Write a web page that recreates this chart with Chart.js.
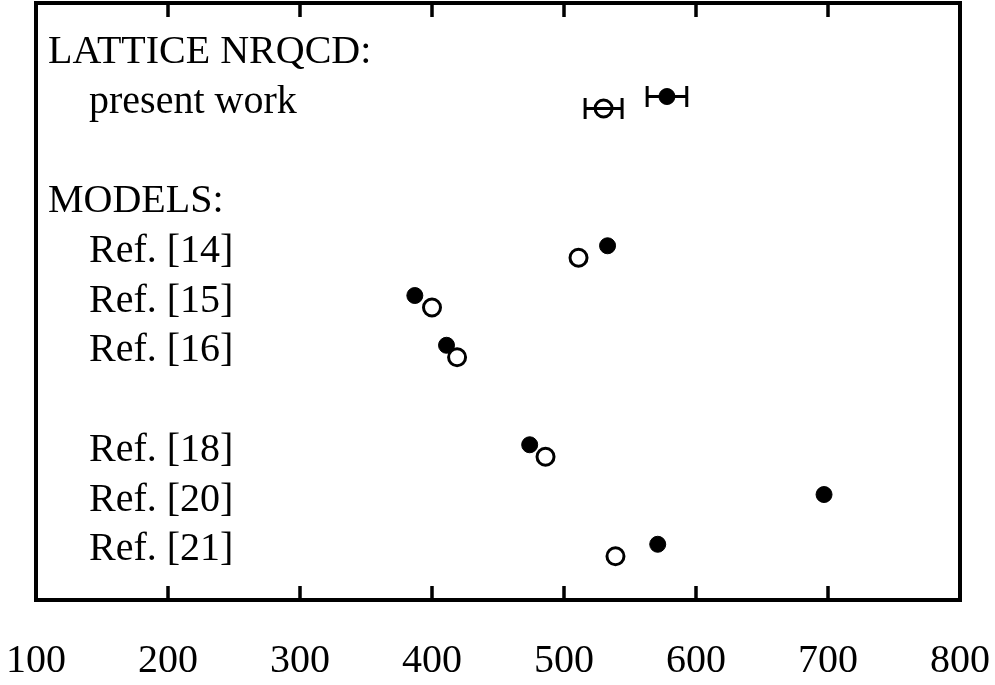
<!DOCTYPE html>
<html>
<head>
<meta charset="utf-8">
<title>NRQCD vs models</title>
<script src="https://cdn.jsdelivr.net/npm/chart.js@4.4.1/dist/chart.umd.min.js"></script>
<style>
  html, body { margin: 0; padding: 0; background: #fff; }
  #wrap { width: 995px; height: 685px; position: relative; }
</style>
</head>
<body>
<div id="wrap"><canvas id="chart"></canvas></div>
<script>
// Row labels (row index counts from the top, empty rows are gaps)
const rowLabels = ['LATTICE NRQCD:', 'present work', 'MODELS:', 'Ref. [14]', 'Ref. [15]', 'Ref. [16]', 'Ref. [18]', 'Ref. [20]', 'Ref. [21]'];
const labelRows = [0, 1, 3, 4, 5, 6, 8, 9, 10];
const labelIndent = [0, 1, 0, 1, 1, 1, 1, 1, 1];

// Results for each row that has points
const pointRows = [1, 4, 5, 6, 8, 9, 10];
const filledValues = [578, 533, 387, 411, 474, 697, 571];
const filledErrors = [15, null, null, null, null, null, null];
const openValues = [530, 511, 400, 419, 486, null, 539];
const openErrors = [14, null, null, null, null, null, null];

const xTicks = [100, 200, 300, 400, 500, 600, 700, 800];

const FONT = "'Liberation Serif', 'Times New Roman', serif";
const ROW_SHIFT = 0.12; // filled sits a little above the row, open a little below

function toPoints(values, errors, shift) {
    const pts = [];
    values.forEach((v, i) => {
        if (v === null) return;
        pts.push({ x: v, y: pointRows[i] + shift, err: errors[i] });
    });
    return pts;
}

// Frame with inward ticks on top and bottom
const framePlugin = {
    id: 'frame',
    afterDatasetsDraw(chart) {
        const { ctx, chartArea: a, scales: { x } } = chart;
        ctx.save();
        ctx.strokeStyle = '#000';
        ctx.lineWidth = 4;
        ctx.strokeRect(a.left, a.top, a.right - a.left, a.bottom - a.top);
        ctx.lineWidth = 3.5;
        x.ticks.forEach(t => {
            if (t.value === x.min || t.value === x.max) return;
            const px = Math.round(x.getPixelForValue(t.value));
            ctx.beginPath();
            ctx.moveTo(px, a.bottom);
            ctx.lineTo(px, a.bottom - 14);
            ctx.moveTo(px, a.top);
            ctx.lineTo(px, a.top + 14);
            ctx.stroke();
        });
        ctx.restore();
    }
};

// Horizontal error bars with end caps
const errorBarPlugin = {
    id: 'errorBars',
    afterDatasetsDraw(chart) {
        const { ctx, scales: { x, y } } = chart;
        ctx.save();
        ctx.strokeStyle = '#000';
        ctx.lineWidth = 3;
        chart.data.datasets.forEach(ds => {
            ds.data.forEach(p => {
                if (!p.err) return;
                const x0 = x.getPixelForValue(p.x - p.err);
                const x1 = x.getPixelForValue(p.x + p.err);
                const py = y.getPixelForValue(p.y);
                ctx.beginPath();
                ctx.moveTo(x0, py);
                ctx.lineTo(x1, py);
                ctx.moveTo(x0, py - 10.5);
                ctx.lineTo(x0, py + 10.5);
                ctx.moveTo(x1, py - 10.5);
                ctx.lineTo(x1, py + 10.5);
                ctx.stroke();
            });
        });
        ctx.restore();
    }
};

// Row names inside the frame
const rowLabelPlugin = {
    id: 'rowLabels',
    afterDraw(chart) {
        const { ctx, chartArea: a, scales: { y } } = chart;
        ctx.save();
        ctx.fillStyle = '#000';
        ctx.font = '40px ' + FONT;
        ctx.textAlign = 'left';
        ctx.textBaseline = 'alphabetic';
        rowLabels.forEach((txt, i) => {
            const px = a.left + (labelIndent[i] ? 53 : 12);
            const py = y.getPixelForValue(labelRows[i]) + 10;
            ctx.fillText(txt, px, py);
        });
        ctx.restore();
    }
};

new Chart(document.getElementById('chart'), {
    type: 'scatter',
    data: {
        datasets: [{
            label: 'open',
            data: toPoints(openValues, openErrors, ROW_SHIFT),
            pointStyle: 'circle',
            pointRadius: 8.5,
            pointHoverRadius: 8.5,
            borderWidth: 3,
            borderColor: '#000',
            backgroundColor: '#fff',
            order: 0
        }, {
            label: 'filled',
            data: toPoints(filledValues, filledErrors, -ROW_SHIFT),
            pointStyle: 'circle',
            pointRadius: 8,
            pointHoverRadius: 8,
            borderWidth: 1,
            borderColor: '#000',
            backgroundColor: '#000',
            order: 1
        }]
    },
    options: {
        responsive: true,
        maintainAspectRatio: false,
        animation: false,
        layout: { autoPadding: false, padding: { left: 36, right: 35, top: 3, bottom: 2 } },
        plugins: {
            legend: { display: false },
            tooltip: { enabled: false }
        },
        scales: {
            x: {
                type: 'linear',
                min: 100,
                max: 800,
                afterBuildTicks(scale) {
                    scale.ticks = xTicks.map(v => ({ value: v }));
                },
                afterFit(scale) {
                    scale.height = 83;
                    scale.paddingLeft = 0;
                    scale.paddingRight = 0;
                },
                grid: { display: false, drawTicks: false },
                border: { display: false },
                ticks: {
                    color: '#000',
                    padding: 37,
                    maxRotation: 0,
                    autoSkip: false,
                    font: { family: FONT, size: 40 }
                }
            },
            y: {
                type: 'linear',
                display: false,
                reverse: true,
                min: -1,
                max: 11
            }
        }
    },
    plugins: [framePlugin, errorBarPlugin, rowLabelPlugin]
});
</script>
</body>
</html>
